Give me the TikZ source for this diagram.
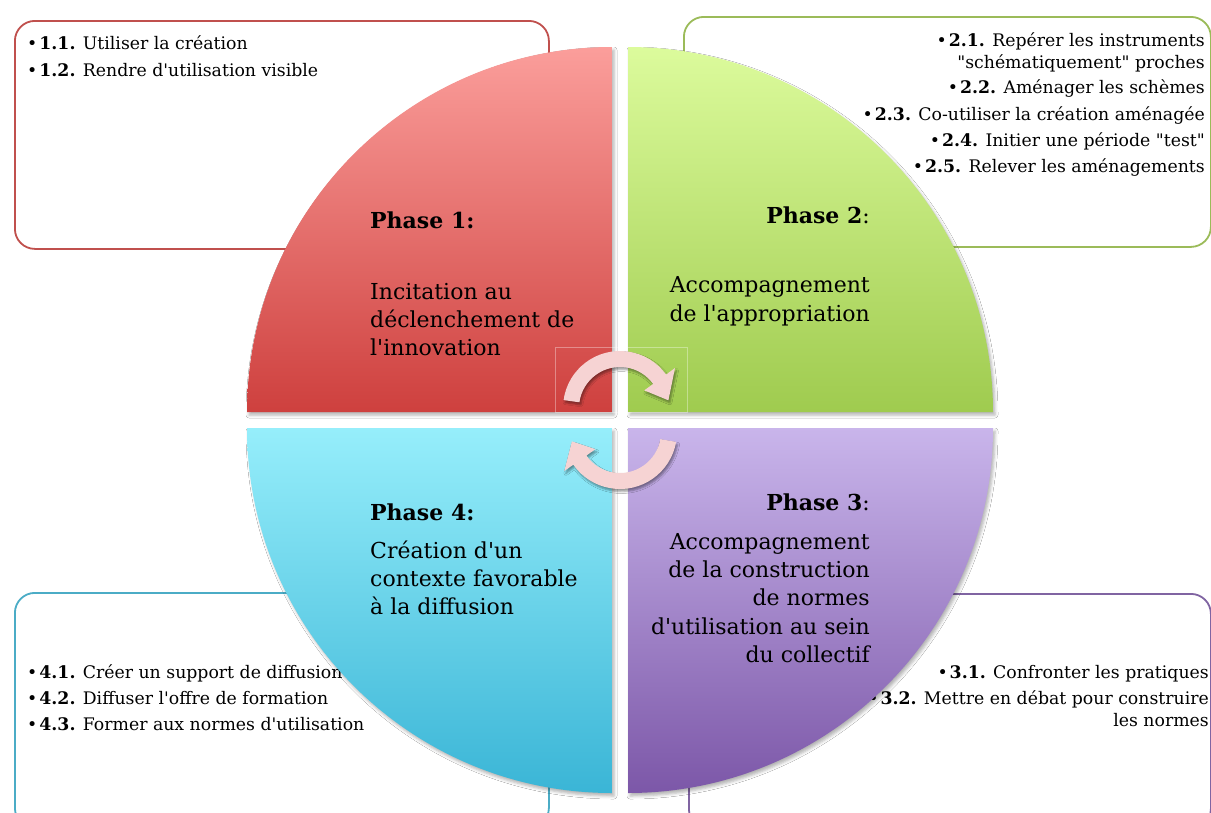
\documentclass[tikz,border=0pt]{standalone}
\usepackage{fontspec}
\setmainfont{DejaVu Serif}[Ligatures=TeXOff]
\usetikzlibrary{calc,shadows.blur}
\definecolor{boxred}{HTML}{C0504D}
\definecolor{boxgreen}{HTML}{9BBB59}
\definecolor{boxcyan}{HTML}{4BACC6}
\definecolor{boxpurple}{HTML}{8064A2}
\definecolor{qatop}{HTML}{FB9E9B}
\definecolor{qabot}{HTML}{CE403E}
\definecolor{qbtop}{HTML}{DCFB9C}
\definecolor{qbbot}{HTML}{9FCB4F}
\definecolor{qctop}{HTML}{C9B5EB}
\definecolor{qcbot}{HTML}{7C57A8}
\definecolor{qdtop}{HTML}{96EEFB}
\definecolor{qdbot}{HTML}{3AB5D6}
\definecolor{arrowpink}{HTML}{F6D3D3}
\begin{document}
\begin{tikzpicture}[x=1pt,y=-1pt,
  infobox/.style={rounded corners=20pt, line width=1.8pt, fill=white, inner sep=0pt},
  quad/.style={blur shadow={shadow xshift=2pt, shadow yshift=-3pt, shadow blur radius=3pt, shadow opacity=30}},
  cyclearrow/.style={fill=arrowpink, blur shadow={shadow xshift=1.5pt, shadow yshift=-2.5pt, shadow blur radius=2pt, shadow opacity=40}},
  phasetxt/.style={font=\fontsize{22}{28}\selectfont, inner sep=0pt},
  itemtxt/.style={font=\fontsize{17.3}{21}\selectfont, inner sep=0pt}]
\useasboundingbox (0,0) rectangle (1211,812);
\fill[white] (0,0) rectangle (1211,812);

% boxes
\node[infobox, draw=boxred, minimum width=534pt, minimum height=228pt, anchor=north west] (b1) at (14,20) {};
\node[infobox, draw=boxgreen, minimum width=527pt, minimum height=230pt, anchor=north west] (b2) at (683,16) {};
\node[infobox, draw=boxcyan, minimum width=534pt, minimum height=235pt, anchor=north west] (b4) at (14,592) {};
\node[infobox, draw=boxpurple, minimum width=522pt, minimum height=235pt, anchor=north west] (b3) at (688,593) {};

% box items
\node[itemtxt, anchor=base west] (i11) at (27,49) {\textbullet\hspace{2pt}\textbf{1.1.} Utiliser la création};
\node[itemtxt, anchor=base west] (i12) at (27,76) {\textbullet\hspace{2pt}\textbf{1.2.} Rendre d'utilisation visible};

\node[itemtxt, anchor=base east] (i21) at (1205,46) {\textbullet\hspace{2pt}\textbf{2.1.} Repérer les instruments};
\node[itemtxt, anchor=base east] (i21b) at (1205,68) {"schématiquement" proches};
\node[itemtxt, anchor=base east] (i22) at (1205,93) {\textbullet\hspace{2pt}\textbf{2.2.} Aménager les schèmes};
\node[itemtxt, anchor=base east] (i23) at (1205,120) {\textbullet\hspace{2pt}\textbf{2.3.} Co-utiliser la création aménagée};
\node[itemtxt, anchor=base east] (i24) at (1205,146) {\textbullet\hspace{2pt}\textbf{2.4.} Initier une période "test"};
\node[itemtxt, anchor=base east] (i25) at (1205,172) {\textbullet\hspace{2pt}\textbf{2.5.} Relever les aménagements};

\node[itemtxt, anchor=base west] (i41) at (27,678) {\textbullet\hspace{2pt}\textbf{4.1.} Créer un support de diffusion};
\node[itemtxt, anchor=base west] (i42) at (27,704) {\textbullet\hspace{2pt}\textbf{4.2.} Diffuser l'offre de formation};
\node[itemtxt, anchor=base west] (i43) at (27,730) {\textbullet\hspace{2pt}\textbf{4.3.} Former aux normes d'utilisation};

\node[itemtxt, anchor=base east] (i31) at (1209,678) {\textbullet\hspace{2pt}\textbf{3.1.} Confronter les pratiques};
\node[itemtxt, anchor=base east] (i32) at (1209,704) {\textbullet\hspace{2pt}\textbf{3.2.} Mettre en débat pour construire};
\node[itemtxt, anchor=base east] (i32b) at (1209,726) {les normes};

% quadrants
\coordinate (ca) at (612,412);
\coordinate (cb) at (628,412);
\coordinate (cc) at (628,428);
\coordinate (cd) at (612,428);
\path[quad, top color=qatop, bottom color=qabot] (ca) -- ++(0,-365) arc[start angle=-90, end angle=-180, radius=365] -- cycle;
\path[quad, top color=qbtop, bottom color=qbbot] (cb) -- ++(0,-365) arc[start angle=-90, end angle=0, radius=365] -- cycle;
\path[quad, top color=qctop, bottom color=qcbot] (cc) -- ++(365,0) arc[start angle=0, end angle=90, radius=365] -- cycle;
\path[quad, top color=qdtop, bottom color=qdbot] (cd) -- ++(0,365) arc[start angle=90, end angle=180, radius=365] -- cycle;

% phase texts
\node[phasetxt, anchor=base west] (p1) at (370,228) {\textbf{Phase 1:}};
\node[phasetxt, anchor=base west] (p1a) at (370,299) {Incitation au};
\node[phasetxt, anchor=base west] (p1b) at (370,327) {déclenchement de};
\node[phasetxt, anchor=base west] (p1c) at (370,355) {l'innovation};

\node[phasetxt, anchor=base east] (p2) at (870,223) {\textbf{Phase 2}:};
\node[phasetxt, anchor=base east] (p2a) at (870,292) {Accompagnement};
\node[phasetxt, anchor=base east] (p2b) at (870,321) {de l'appropriation};

\node[phasetxt, anchor=base east] (p3) at (870,510) {\textbf{Phase 3}:};
\node[phasetxt, anchor=base east] (p3a) at (870,549) {Accompagnement};
\node[phasetxt, anchor=base east] (p3b) at (870,577) {de la construction};
\node[phasetxt, anchor=base east] (p3c) at (870,605) {de normes};
\node[phasetxt, anchor=base east] (p3d) at (870,634) {d'utilisation au sein};
\node[phasetxt, anchor=base east] (p3e) at (870,662) {du collectif};

\node[phasetxt, anchor=base west] (p4) at (370,520) {\textbf{Phase 4:}};
\node[phasetxt, anchor=base west] (p4a) at (370,558) {Création d'un};
\node[phasetxt, anchor=base west] (p4b) at (370,586) {contexte favorable};
\node[phasetxt, anchor=base west] (p4c) at (370,614) {à la diffusion};

% cycle arrows
\draw[white, opacity=0.35, line width=0.8pt] (555,347) rectangle (687,412);
\coordinate (ta) at (620,408);
\coordinate (ba) at (620,432);
\fill[cyclearrow] ($(ta)+(-172:57)$) arc[start angle=-172, end angle=-36, radius=57]
  -- ($(ta)+(-36:68)$) -- ($(ta)+(-9:49)$) -- ($(ta)+(-36:30)$)
  -- ($(ta)+(-36:41)$) arc[start angle=-36, end angle=-172, radius=41] -- cycle;
\fill[cyclearrow] ($(ba)+(10:57)$) arc[start angle=10, end angle=145, radius=57]
  -- ($(ba)+(145:68)$) -- ($(ba)+(169:49)$) -- ($(ba)+(145:30)$)
  -- ($(ba)+(145:41)$) arc[start angle=145, end angle=10, radius=41] -- cycle;
\end{tikzpicture}
\end{document}
